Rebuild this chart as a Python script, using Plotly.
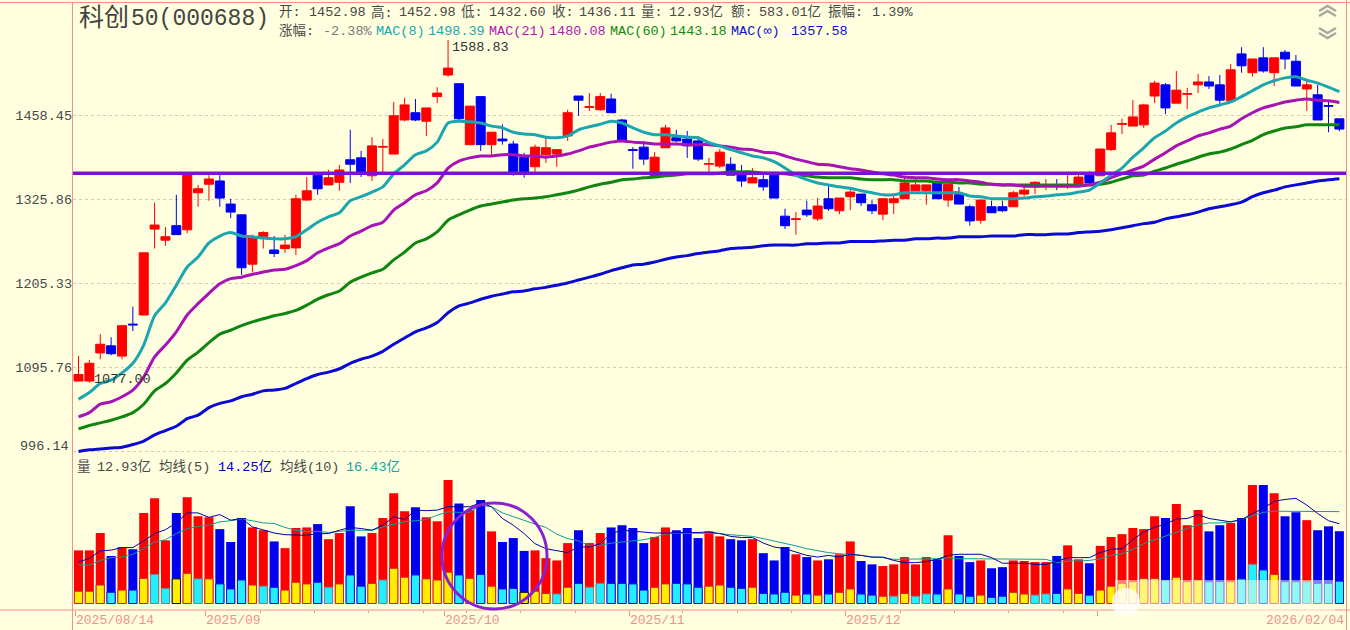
import plotly.graph_objects as go

# 科创50 daily bars
opens = [1079,1079,1114,1123,1110,1151,1163,1282,1266,1287,
         1281,1336,1349,1354,1319,1303,1232,1271,1252,1254,
         1255,1325,1363,1348,1352,1387,1390,1362,1407,1396,
         1451,1463,1449,1490,1527,1512,1411,1490,1411,1420,
         1412,1391,1376,1395,1396,1425,1491,1472,1468,1486,
         1451,1403,1407,1360,1406,1422,1420,1417,1380,1377,
         1380,1368,1351,1356,1363,1301,1296,1310,1297,1327,
         1309,1330,1334,1318,1304,1321,1327,1339,1339,1351,
         1325,1333,1315,1295,1315,1315,1315,1334,1345,1347,
         1348,1347,1349,1365,1362,1403,1444,1441,1443,1491,
         1510,1479,1494,1510,1515,1510,1483,1564,1531,1557,
         1531,1567,1551,1503,1493,1475,1452.98]
highs = [1110,1105,1138,1134,1149,1174,1248,1321,1285,1333,
         1366,1348,1363,1363,1327,1303,1274,1279,1272,1274,
         1333,1360,1366,1371,1379,1435,1401,1423,1420,1481,
         1488,1486,1471,1506,1588.83,1512,1474,1490,1431,1444,
         1417,1398,1411,1422,1403,1468,1491,1496,1496,1495,
         1453,1407,1417,1399,1443,1435,1433,1425,1390,1404,
         1391,1379,1374,1363,1363,1312,1307,1324,1328,1349,
         1328,1342,1334,1325,1327,1333,1360,1359,1348,1351,
         1349,1345,1318,1325,1324,1324,1339,1345,1354,1357,
         1357,1363,1363,1369,1404,1443,1453,1484,1478,1517,
         1513,1534,1505,1529,1525,1527,1546,1576,1555,1576,
         1557,1571,1562,1518,1510,1481,1452.98]
lows = [1079,1077,1106,1111,1106,1142,1163,1254,1258,1274,
        1276,1315,1324,1315,1298,1217,1221,1254,1242,1248,
        1245,1324,1333,1348,1339,1351,1360,1354,1366,1396,
        1449,1449,1425,1479,1524,1451,1411,1401,1393,1411,
        1362,1359,1368,1382,1376,1417,1458,1466,1466,1463,
        1418,1373,1379,1360,1406,1415,1390,1385,1368,1374,
        1363,1345,1351,1339,1328,1282,1274,1300,1294,1309,
        1304,1310,1316,1304,1295,1304,1327,1339,1318,1327,
        1315,1319,1287,1290,1306,1307,1315,1331,1334,1340,
        1340,1342,1348,1348,1362,1401,1428,1441,1438,1479,
        1461,1479,1469,1496,1503,1478,1483,1531,1524,1531,
        1508,1537,1508,1466,1451,1431,1432.60]
closes = [1087,1101,1125,1113,1149,1150,1248,1288,1271,1274,
          1366,1342,1357,1328,1307,1227,1269,1277,1247,1259,
          1327,1339,1342,1359,1371,1380,1368,1409,1408,1458,
          1476,1451,1471,1496,1539,1453,1474,1411,1431,1417,
          1368,1366,1407,1406,1403,1463,1484,1473,1490,1463,
          1418,1402,1388,1391,1438,1417,1409,1388,1381,1399,
          1363,1354,1359,1345,1328,1287,1297,1303,1316,1312,
          1328,1337,1321,1309,1327,1327,1351,1348,1348,1327,
          1349,1319,1294,1325,1306,1309,1336,1340,1352,1348,
          1347,1348,1360,1351,1404,1430,1445,1456,1476,1513,
          1471,1501,1495,1515,1508,1484,1536,1543,1555,1534,
          1557,1555,1508,1510,1451,1474,1436.11]

mac8 = [1057,1065,1076,1080,1089,1101,1124,1162,1179,1203,
        1228,1242,1262,1272,1277,1272,1271,1269,1268,1268,
        1271,1281,1292,1300,1306,1324,1330,1337,1345,1365,
        1379,1395,1401,1415,1446,
        1449,1448,1446,1441,1438,1431,1428,1427,1423,1422,
        1425,1435,1440,1444,1449,1446,1438,1431,1427,1427,
        1425,1423,1422,1414,1409,1403,1398,1393,1390,1384,
        1374,1363,1356,1351,1348,1345,1343,1339,1336,1333,1333,
        1336,1336,1336,1336,1336,1336,1331,1330,1327,1327,
        1327,1328,1330,1331,1333,1334,1337,1340,
        1351,1363,1374,1391,1406,1422,1433,1446,1456,1464,
        1471,1476,1481,1490,1500,1510,1517,1522,1524,1518,
        1513,1506,1498.39]
mac21 = [1036,1041,1051,1054,1060,1068,1084,1109,1124,1141,
         1163,1178,1192,1205,1212,1214,1218,1221,1224,1225,
         1230,1237,1248,1255,1261,1272,1279,1287,1292,1310,
         1321,1333,1339,1351,1374,
         1385,1390,1393,1393,1395,1395,1393,1393,1391,1393,
         1396,1401,1407,1411,1415,1417,1415,1414,1412,1412,
         1412,1411,1411,1411,1409,1407,1404,1403,1399,1398,
         1393,1388,1384,1380,1379,1376,1373,1371,1368,1365,1363,
         1360,1359,1359,1357,1356,1356,1354,1352,1349,1348,
         1348,1346,1346,1346,1346,1346,1346,1348,
         1352,1359,1365,1371,1377,1388,1398,1409,1417,1425,
         1430,1436,1441,1453,1463,1471,1476,1481,1484,1486,
         1484,1483,1480.08]
mac60 = [1022,1026,1029,1032,1036,1041,1051,1067,1076,1089,
         1105,1115,1127,1138,1143,1149,1154,1158,1162,1165,
         1169,1176,1184,1190,1195,1207,1214,1220,1225,1238,
         1249,1262,1268,1278,1295,
         1303,1310,1316,1319,1322,1325,1327,1328,1330,1333,
         1336,1340,1345,1349,1352,1356,1357,1359,1360,1362,
         1363,1365,1365,1365,1366,1368,1368,1368,1366,1366,
         1365,1363,1362,1360,1359,1359,1359,1357,1356,1356,1356,
         1354,1354,1354,1352,1352,1351,1351,1349,1349,1348,
         1348,1348,1348,1348,1348,1348,1348,1348,
         1349,1352,1357,1362,1363,1369,1374,1380,1385,1391,
         1396,1399,1404,1411,1418,1427,1433,1438,1440,1443,
         1443,1443,1443.18]
mac_inf = [996,998,999,1000,1001,1004,1008,1015,1020,1025,
           1034,1038,1047,1052,1055,1060,1063,1067,1068,1070,
           1076,1082,1087,1090,1094,1101,1106,1110,1116,1125,
           1133,1141,1146,1153,1166,
           1175,1179,1184,1188,1191,1194,1195,1198,1200,1203,
           1206,1210,1214,1218,1223,1227,1231,1232,1235,1239,
           1242,1244,1247,1249,1251,1254,1255,1256,1258,1259,
           1259,1259,1261,1261,1262,1262,1264,1264,1264,1265,
           1266,1266,1268,1268,1269,1269,1271,1271,1271,1272,
           1272,1272,1274,1274,1274,
           1275,1275,1277,1278,1279,1281,1284,1287,1290,1292,
           1297,1300,1303,1307,1312,1315,1318,1322,1330,1336,
           1340,1345,1348,1351,1354,1356,1357.58]

# volume in 亿, and the lighter inner bar drawn at the foot of each one
volume = [9.5,9.5,12.6,8.5,10.1,9.7,16.2,18.8,11.3,16.2,
          19.0,15.6,15.4,13.3,11.0,15.3,13.6,13.1,11.1,9.9,
          13.5,13.6,14.2,11.5,12.6,17.4,12.0,12.6,15.3,19.7,
          16.5,17.2,15.4,14.7,22.1,
          17.9,16.7,18.5,12.9,11.0,11.7,9.4,9.5,8.1,7.7,
          10.8,13.1,10.8,12.6,13.6,14.0,13.5,10.8,11.9,13.6,
          13.1,13.5,11.7,12.9,12.0,11.5,11.3,11.5,9.0,7.7,
          10.1,8.8,8.3,7.7,7.9,8.8,11.1,7.6,7.0,6.7,7.0,
          8.3,7.0,8.3,7.9,12.2,8.5,7.4,7.7,6.3,6.5,
          7.7,7.6,7.4,7.4,8.5,10.4,7.9,7.2,10.3,11.9,
          12.4,13.5,13.3,15.6,15.3,17.8,14.0,16.7,12.9,14.0,
          14.4,15.3,21.2,21.2,19.7,15.6,16.3,14.9,13.1,13.8,12.93]
inner = [2.2,2.2,3.3,2.0,2.4,2.4,4.5,5.2,2.7,4.4,
         5.4,4.4,4.4,3.5,2.6,4.2,3.3,3.1,2.9,2.4,
         3.8,3.5,3.8,2.9,3.5,5.1,3.1,3.6,4.2,6.3,
         4.7,5.1,4.4,4.2,5.6,
         5.1,4.5,5.2,3.1,2.6,2.7,2.0,2.2,1.8,1.7,
         2.9,3.6,2.9,3.6,3.6,3.6,3.5,2.4,2.9,3.5,
         3.6,3.5,2.9,3.1,3.3,2.9,2.7,2.9,1.8,1.7,
         2.0,1.5,1.7,1.5,1.7,2.0,2.6,1.7,1.5,1.3,1.3,
         1.8,1.3,1.7,1.7,2.6,1.7,1.3,1.5,1.1,1.3,
         2.0,1.7,1.5,1.7,1.8,2.6,1.8,1.5,2.4,3.1,
         3.6,3.9,4.5,4.5,4.2,4.7,3.9,4.2,3.9,3.9,
         3.9,4.4,7.0,6.0,5.2,3.9,3.9,3.9,3.6,3.6,4.0]
inner_kind = list("YYYCYCYCCYYCYCCCYCCYYYCCYCCYCYYCYYY"
                  "CYCYCCYYYCYCCCCCCCYYCCCYYCCYCCCYCYCYYCCYC"
                  "YCCCYCCYCCYYCCCYYCYYYYYYCYYYCCYCCCYCCCCCC")
vol_ma5 = [7.45,8.05,9.42,9.54,10.0,10.0,11.2,12.5,13.2,14.4,
           16.2,16.2,15.4,15.9,14.9,15.2,13.7,13.1,12.6,12.3,
           12.2,12.2,12.5,12.5,13.1,13.6,13.4,13.1,14.0,15.5,
           15.0,16.7,16.6,16.7,17.3,
           17.3,17.3,18.0,17.3,15.2,14.0,12.5,10.7,9.8,9.4,
           9.1,10.1,10.1,10.7,12.5,13.1,12.9,12.8,12.6,12.6,
           12.7,12.7,12.7,12.8,12.5,12.0,11.8,11.8,10.8,10.1,
           9.8,9.2,8.6,8.3,8.6,8.3,8.8,8.6,8.3,8.3,7.7,
           7.3,7.3,7.5,7.9,8.6,8.8,8.8,8.8,8.2,7.2,
           7.2,7.2,7.0,7.0,7.5,8.2,8.2,8.2,9.1,9.7,
           9.8,11.4,12.8,13.6,14.2,15.1,15.2,15.9,15.2,14.9,
           14.6,15.0,16.1,17.0,18.3,18.6,18.8,17.6,16.1,14.8,14.25]
vol_ma10 = [6.9,6.9,7.7,8.2,8.3,8.8,9.8,11.0,11.4,12.5,
            13.4,13.8,14.0,14.6,14.8,15.1,14.8,14.4,14.3,13.6,
            13.1,12.9,12.9,12.7,12.9,13.1,13.1,13.1,13.7,14.2,
            14.6,14.8,15.0,15.8,16.4,
            16.3,16.3,17.6,17.3,16.2,15.5,14.9,14.2,13.6,12.4,
            11.6,11.2,10.4,10.4,10.8,11.0,11.3,11.4,11.8,12.4,
            12.6,12.6,12.6,12.6,12.5,12.3,12.2,12.0,11.6,11.2,
            10.7,10.3,9.8,9.4,9.1,8.9,8.8,8.6,8.3,8.2,7.9,
            7.9,7.9,7.9,8.0,8.2,8.0,8.0,8.0,7.9,7.9,
            7.9,8.0,7.9,7.9,7.3,7.6,7.6,7.7,8.0,8.6,
            8.9,9.7,10.7,11.4,12.0,12.8,13.5,14.1,14.4,14.4,
            14.6,15.0,15.7,16.3,16.5,16.5,16.5,16.4,16.4,16.4,16.43]

level = 1366
price_ticks = [1458.45, 1325.86, 1205.33, 1095.76, 996.14]
month_labels = ["2025/08/14", "2025/09", "2025/10", "2025/11", "2025/12"]
month_ticks = [-0.25, 11.7, 33.7, 50.7, 70.6, 93.7]
minor_ticks = [16.7, 21.7, 26.7, 31.7, 35.7, 40.7, 45.7, 55.6, 60.6, 65.6,
               75.6, 80.6, 85.6, 90.6]

RED = "#FF0000"
BLUE = "#0000F0"
SALMON = "#F0908A"
BG = "#FFFFE0"
TEXT = "#484848"
MONO = "Liberation Mono, Noto Sans CJK SC"
W, H = 1350, 630

bars = list(range(len(closes)))
up = [c >= o for o, c in zip(opens, closes)]


def px(x):
    return x / W


def py(y):
    return 1 - y / H


fig = go.Figure()

fig.add_trace(go.Candlestick(
    x=bars, open=opens, high=highs, low=lows, close=closes,
    increasing=dict(line=dict(color=RED, width=1), fillcolor=RED),
    decreasing=dict(line=dict(color=BLUE, width=1), fillcolor=BLUE),
    whiskerwidth=0, xaxis="x", yaxis="y", showlegend=False,
))

for values, color in [(mac_inf, "#0A0AD2"), (mac60, "#0F860F"),
                      (mac21, "#A812B5"), (mac8, "#1AA5AF")]:
    fig.add_trace(go.Scatter(x=bars, y=values, mode="lines", xaxis="x", yaxis="y",
                             line=dict(color=color, width=3, shape="spline", smoothing=0.7),
                             showlegend=False))

# support level across the whole pane
fig.add_trace(go.Scatter(x=[-0.506, 116.7], y=[level, level], mode="lines",
                         xaxis="x", yaxis="y",
                         line=dict(color="#7B10D8", width=3.5), showlegend=False))

# volume pane
fig.add_trace(go.Bar(x=bars, y=volume, width=0.83, xaxis="x2", yaxis="y2",
                     marker=dict(color=[RED if u else BLUE for u in up], line_width=0),
                     showlegend=False))
inner_fill = ["#FFEE00" if k == "Y" else "#22EEFF" for k in inner_kind]
edge = {(True, "Y"): "#D02020", (True, "C"): "#808080",
        (False, "Y"): "#101010", (False, "C"): "#1010E0"}
inner_edge = [edge[(u, k)] for u, k in zip(up, inner_kind)]
fig.add_trace(go.Bar(x=bars, y=inner, width=0.76, xaxis="x2", yaxis="y2",
                     marker=dict(color=inner_fill, line=dict(color=inner_edge, width=1)),
                     showlegend=False))
fig.add_trace(go.Scatter(x=bars, y=vol_ma10, mode="lines", xaxis="x2", yaxis="y2",
                         line=dict(color="#109C98", width=1), showlegend=False))
fig.add_trace(go.Scatter(x=bars, y=vol_ma5, mode="lines", xaxis="x2", yaxis="y2",
                         line=dict(color="#0000A8", width=1), showlegend=False))

# text rows: (text, left x, centre y, colour)
rows = [
    ("开:", 279, 12, TEXT), ("1452.98", 309, 12, TEXT), ("高:", 371, 12, TEXT),
    ("1452.98", 399, 12, TEXT), ("低:", 461, 12, TEXT), ("1432.60", 489, 12, TEXT),
    ("收:", 552, 12, TEXT), ("1436.11", 579, 12, TEXT), ("量:", 641, 12, TEXT),
    ("12.93亿", 669, 12, TEXT), ("额:", 731, 12, TEXT), ("583.01亿", 759, 12, TEXT),
    ("振幅:", 828, 12, TEXT), ("1.39%", 872, 12, TEXT),
    ("涨幅:", 279, 31, TEXT), ("-2.38%", 323, 31, "#7A7A7A"),
    ("MAC(8)", 376, 31, "#18A8B0"), ("1498.39", 428, 31, "#18A8B0"),
    ("MAC(21)", 489, 31, "#B018B0"), ("1480.08", 549, 31, "#B018B0"),
    ("MAC(60)", 610, 31, "#108C10"), ("1443.18", 670, 31, "#108C10"),
    ("MAC(∞)", 731, 31, "#1010C8"), ("1357.58", 791, 31, "#1010C8"),
    ("1588.83", 452, 48, "#333333"), ("1077.00", 94, 379, "#333333"),
    ("量", 77, 467, TEXT), ("12.93亿", 97, 467, TEXT), ("均线(5)", 159, 467, TEXT),
    ("14.25亿", 218, 467, "#0000C0"), ("均线(10)", 280, 467, TEXT),
    ("16.43亿", 346, 467, "#20A0A0"),
]
# annotations keep a small pad on the left, xshift takes it back
annotations = [dict(text=t, x=px(x), y=py(y), xref="paper", yref="paper", xshift=-2,
                    xanchor="left", yanchor="middle", showarrow=False,
                    font=dict(family=MONO, size=13.5, color=c))
               for t, x, y, c in rows]

# big title, the CJK and the digits sized apart
annotations.append(dict(text="科创", x=px(79), y=py(19), xref="paper", yref="paper", xshift=-2,
                        xanchor="left", yanchor="middle", showarrow=False,
                        font=dict(family=MONO, size=25, color="#444444")))
annotations.append(dict(text="50(000688)", x=px(131), y=py(19), xref="paper", yref="paper", xshift=-2,
                        xanchor="left", yanchor="middle", showarrow=False,
                        font=dict(family=MONO, size=23, color="#444444")))

# lowest price label sits above its grid line
annotations.append(dict(text="996.14", x=px(71), y=py(446), xref="paper", yref="paper",
                        xanchor="right", yanchor="middle", showarrow=False,
                        font=dict(family=MONO, size=13.5, color=TEXT)))

# date labels start at their tick
for label, tick in zip(month_labels, month_ticks):
    annotations.append(dict(text=label, x=tick, y=py(620), xref="x2", yref="paper", xshift=-2,
                            xanchor="left", yanchor="middle", showarrow=False,
                            font=dict(family=MONO, size=13, color=SALMON)))
annotations.append(dict(text="2026/02/04", x=px(1346), y=py(620), xref="paper", yref="paper",
                        xanchor="right", yanchor="middle", showarrow=False,
                        font=dict(family=MONO, size=13, color=SALMON)))


def frame_line(x0, y0, x1, y1):
    return dict(type="line", xref="paper", yref="paper", x0=px(x0), y0=py(y0),
                x1=px(x1), y1=py(y1), line=dict(color=SALMON, width=1), layer="above")


def chevron(y_tip, y_base):
    return dict(type="path", xref="paper", yref="paper", layer="above",
                path=f"M {px(1319)} {py(y_base)} L {px(1327.5)} {py(y_tip)} L {px(1336)} {py(y_base)}",
                line=dict(color="#A8A8A0", width=2.5))


shapes = [
    frame_line(0, 2.5, W, 2.5), frame_line(0, 610, W, 610),
    frame_line(72.5, 2.5, 72.5, H), frame_line(1346.5, 0, 1346.5, H),
    chevron(6, 11), chevron(11, 16), chevron(38, 33), chevron(33, 28),
    # hand drawn circle
    dict(type="circle", xref="paper", yref="paper", x0=px(442), x1=px(547),
         y0=py(609), y1=py(503), line=dict(color="#8A20D0", width=3), layer="above"),
    # blurred watermark
    dict(type="rect", xref="paper", yref="paper", x0=px(1115), x1=px(1335),
         y0=py(614), y1=py(580), fillcolor="rgba(255,255,232,0.5)", line_width=0,
         layer="above"),
    dict(type="circle", xref="paper", yref="paper", x0=px(1112), x1=px(1140),
         y0=py(616), y1=py(588), fillcolor="rgba(255,255,255,0.75)", line_width=0,
         layer="above"),
]

fig.update_layout(
    width=W, height=H, margin=dict(l=0, r=0, t=0, b=0),
    paper_bgcolor=BG, plot_bgcolor=BG, barmode="overlay", boxgap=0.17, boxgroupgap=0,
    showlegend=False, annotations=annotations, shapes=shapes,
    xaxis=dict(domain=[px(73), px(1347)], range=[-0.506, 116.7], showgrid=False,
               showticklabels=False, ticks="", zeroline=False, anchor="y",
               rangeslider=dict(visible=False)),
    yaxis=dict(domain=[py(458), py(3)], type="log", range=[2.99510, 3.21932],
               tickvals=price_ticks, ticktext=["1458.45", "1325.86", "1205.33", "1095.76", ""],
               tickfont=dict(family=MONO, size=13.5, color=TEXT), ticks="",
               showgrid=True, gridcolor="#DCCBB0", griddash="3px,3px", gridwidth=1,
               zeroline=False, anchor="x"),
    xaxis2=dict(domain=[px(73), px(1347)], range=[-0.506, 116.7], showgrid=False,
                zeroline=False, anchor="y2", tickmode="array", tickvals=month_ticks,
                showticklabels=False, ticks="outside", ticklen=5, tickcolor=SALMON,
                minor=dict(tickmode="array", tickvals=minor_ticks, ticks="outside",
                           ticklen=2, tickcolor=SALMON, showgrid=False)),
    yaxis2=dict(domain=[py(610), py(470)], range=[-1.162, 23.87], visible=False, anchor="x2"),
)

# the page's default body margin would push the figure off the window
fig.write_html("out.html", config={"displayModeBar": False},
               post_script="document.body.style.margin='0';")
